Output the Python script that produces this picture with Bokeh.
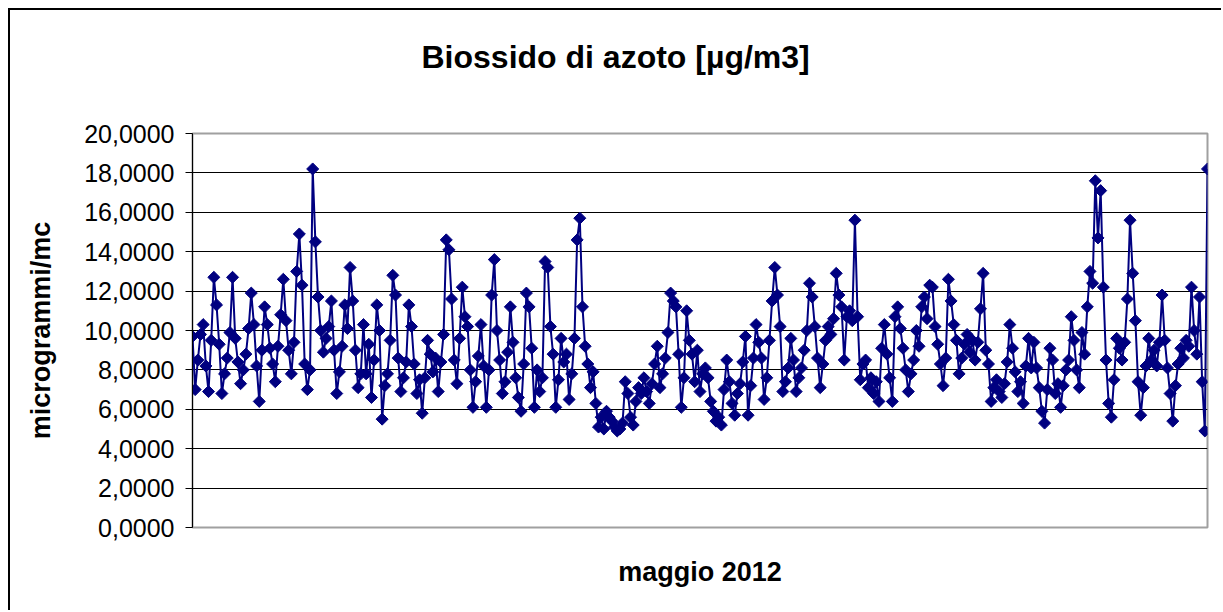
import numpy as np
from bokeh.plotting import figure
from bokeh.models import Range1d, CustomJSTickFormatter, FixedTicker, Title
from bokeh.embed import file_html
from bokeh.resources import INLINE

titolo = "Biossido di azoto [µg/m3]"
asse_x = "maggio 2012"
asse_y = "microgrammi/mc"
y_ticks = [0, 2, 4, 6, 8, 10, 12, 14, 16, 18, 20]

valori = [
    9.7, 7.0, 8.5, 9.8, 10.3, 8.2, 6.9, 9.5, 12.7, 11.3,
    9.3, 6.8, 7.8, 8.6, 9.9, 12.7, 9.6, 8.4, 7.3, 8.0,
    8.8, 10.1, 11.9, 10.3, 8.2, 6.4, 9.0, 11.2, 10.3, 9.1,
    8.3, 7.4, 9.2, 10.8, 12.6, 10.5, 9.0, 7.8, 9.4, 13.0,
    14.9, 12.3, 8.3, 7.0, 8.0, 18.2, 14.5, 11.7, 10.0, 8.9,
    9.6, 10.2, 11.5, 9.0, 6.8, 7.9, 9.2, 11.3, 10.1, 13.2,
    11.5, 9.0, 7.1, 7.8,
    10.3, 7.8, 9.3, 6.6, 8.5, 11.3,
    10.0, 5.5, 7.2, 7.8, 9.5, 12.8, 11.8, 8.6, 6.9, 7.6,
    8.4, 11.3, 10.2, 8.3, 6.8, 7.5, 5.8, 7.6, 9.5, 8.8,
    7.9, 8.6, 6.9, 8.4, 9.8, 14.6, 14.1, 11.6, 8.5, 7.3,
    9.6, 12.2, 10.7, 10.2, 8.0, 6.1, 7.4, 8.7, 10.3, 8.2,
    6.1, 8.0, 11.8, 13.6, 10.0, 8.5, 6.8, 7.4, 8.9, 11.2,
    9.4, 7.6, 6.6, 5.9, 8.3, 11.9,
    11.2, 9.1, 6.1, 8.0,
    6.9, 7.6, 13.5, 13.2, 10.2, 8.8, 6.1, 7.5, 9.6, 8.4,
    8.8, 6.5, 7.8, 9.6, 14.6, 15.7, 11.2, 9.2, 8.3, 7.1,
    7.9, 6.3, 5.1, 5.6, 5.0, 5.9, 5.6, 5.4, 5.1, 4.9,
    5.0, 5.3, 7.4, 6.8, 5.6, 5.2, 6.4, 7.1, 6.8, 7.6,
    6.9, 6.3, 7.3, 8.3, 9.2, 7.1, 7.8, 8.6, 9.9, 11.9,
    11.5, 11.2, 8.8, 6.1, 7.6, 11.0, 9.5, 8.8, 7.4,
    9.0,
    6.9, 7.8, 8.1, 7.6, 6.4, 5.9, 5.4, 5.6, 5.2, 7.0,
    8.5, 7.4, 6.3, 5.7, 6.8, 7.3, 8.4, 9.7, 5.7, 7.2,
    8.6, 10.3, 9.4, 8.6, 6.5, 7.6, 9.5, 11.5, 13.2, 11.8,
    10.2, 6.9, 7.4, 8.1, 9.6, 8.5, 6.9, 7.6, 8.1, 9.0,
    10.0, 12.4, 11.7, 10.2, 8.6, 7.1, 8.3, 9.5, 10.2, 9.8,
    10.6, 12.9, 11.8, 11.2, 8.5, 10.7, 11.0, 10.5, 15.6, 10.7,
    7.5, 8.3,
    8.5, 7.1, 7.6, 6.8, 7.4, 6.4, 9.1, 10.3,
    8.8, 7.6, 6.4, 10.7, 11.2, 10.1, 9.1, 8.0, 6.9, 7.8,
    8.5, 10.0, 9.2, 11.2, 11.7, 10.6, 12.3, 12.2, 10.2, 9.3,
    8.3, 7.2, 8.6, 12.6, 11.5, 10.3, 9.5, 7.8, 8.6, 9.3,
    9.8, 8.9, 9.5, 8.5, 9.4, 11.1, 12.9, 9.0, 8.3, 6.4,
    7.1, 7.5, 6.9, 6.6, 7.3, 8.4, 10.3, 9.1, 7.9, 6.9,
    7.4, 6.3, 8.2, 9.6, 8.1,
    9.4, 8.1, 7.1, 5.9, 5.3,
    7.0, 9.1, 8.5, 6.8, 7.3, 6.1, 7.2, 8.0, 8.5, 10.7,
    9.5, 8.0, 7.1, 9.9, 8.8, 11.2, 13.0, 12.4, 17.6, 14.7,
    17.1, 12.2, 8.5, 6.3, 5.6, 7.5, 9.6, 9.1, 8.5, 9.4,
    11.6, 15.6, 12.9, 10.5, 7.4, 5.7, 7.1, 8.2, 9.6, 8.5,
    9.0, 8.2, 9.4, 11.8, 9.5, 8.1, 6.8, 5.4, 7.2, 8.3,
    9.1, 8.6, 9.5, 9.2, 12.2, 10.0, 8.8, 11.7, 7.4, 4.9,
    18.2,
]
ore = list(range(len(valori)))

FONT = "Liberation Sans"
NAVY = "#000080"

p = figure(width=1213, height=602, output_backend="svg", toolbar_location=None,
           x_range=Range1d(0, len(valori) - 1), y_range=Range1d(0, 20),
           min_border_left=182, min_border_right=16, min_border_top=123,
           min_border_bottom=85, background_fill_color="white",
           border_fill_color="white")
p.styles = {"margin-left": "8px", "margin-top": "8px",
            "border-top": "2px solid black", "border-left": "2px solid black"}

# title: trailing empty line keeps it higher above the plot frame
p.title = Title(text=titolo + "\n", align="left", offset=229, standoff=46,
                vertical_align="bottom", text_font=FONT, text_font_size="32px",
                text_font_style="bold", text_color="black")

p.line(ore, valori, line_color=NAVY, line_width=2)
p.scatter(ore, valori, marker="square", size=8.5, angle=np.pi / 4,
          fill_color=NAVY, line_color=NAVY)

ya = p.yaxis[0]
ya.ticker = FixedTicker(ticks=y_ticks)
ya.formatter = CustomJSTickFormatter(code="return tick.toFixed(4).replace('.', ',');")
ya.major_label_text_font = FONT
ya.major_label_text_font_size = "25px"
ya.major_label_text_color = "black"
ya.major_label_standoff = 11
ya.major_tick_out = 7
ya.major_tick_in = 0
ya.minor_tick_line_color = None
ya.axis_line_color = "black"
ya.major_tick_line_color = "black"
ya.axis_label = asse_y
ya.axis_label_text_font = FONT
ya.axis_label_text_font_size = "27px"
ya.axis_label_text_font_style = "bold"
ya.axis_label_text_color = "black"
ya.axis_label_standoff = 25

xa = p.xaxis[0]
xa.ticker = FixedTicker(ticks=[])
xa.major_label_text_font_size = "0px"
xa.major_tick_line_color = None
xa.minor_tick_line_color = None
xa.axis_line_color = "#a0a0a0"
xa.axis_label = asse_x
xa.axis_label_text_font = FONT
xa.axis_label_text_font_size = "27px"
xa.axis_label_text_font_style = "bold"
xa.axis_label_text_color = "black"
xa.axis_label_standoff = 29

p.xgrid.grid_line_color = None
p.ygrid.grid_line_color = "black"
p.ygrid.grid_line_width = 1
p.outline_line_color = "#a0a0a0"
p.outline_line_width = 2

open("out.html", "w").write(file_html(p, INLINE))
